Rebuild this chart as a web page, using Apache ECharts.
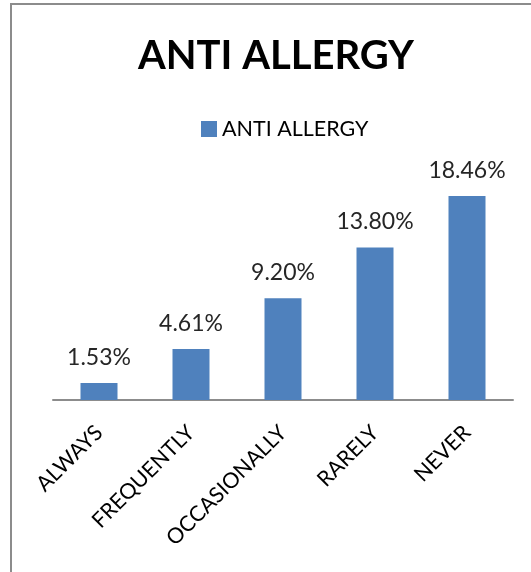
<!DOCTYPE html>
<html>
<head>
<meta charset="utf-8">
<script src="https://cdn.jsdelivr.net/npm/echarts@6/dist/echarts.min.js"></script>
<style>
html,body{margin:0;padding:0;background:#fff;}
#frame{position:absolute;left:10px;top:3px;width:540px;height:600px;border-left:2px solid #8c8c8c;border-top:2px solid #8c8c8c;}
#chart{position:absolute;left:0;top:0;width:531px;height:572px;}
</style>
</head>
<body>
<div id="frame"></div>
<div id="chart"></div>
<script>
const titleText = "ANTI ALLERGY";
const seriesName = "ANTI ALLERGY";
const categories = ["ALWAYS", "FREQUENTLY", "OCCASIONALLY", "RARELY", "NEVER"];
const values = [1.53, 4.61, 9.20, 13.80, 18.46];

const chart = echarts.init(document.getElementById('chart'), null, {renderer: 'canvas'});
chart.setOption({
  animation: false,
  backgroundColor: 'transparent',
  title: {
    text: titleText,
    left: 271,
    textAlign: 'center',
    top: 31,
    textStyle: {fontFamily: 'Lato', fontWeight: 'bold', fontSize: 40, color: '#000'}
  },
  legend: {
    data: [seriesName],
    top: 113,
    left: 196,
    itemWidth: 16,
    itemHeight: 16,
    itemGap: 5,
    icon: 'rect',
    textStyle: {fontFamily: 'Lato', fontSize: 21.5, color: '#000'}
  },
  grid: {left: 53, right: 18, top: 179, bottom: 172, containLabel: false},
  xAxis: {
    type: 'category',
    data: categories,
    axisLine: {show: true, lineStyle: {color: '#8c8c8c', width: 2}},
    axisTick: {show: false},
    axisLabel: {rotate: 45, margin: 29, fontFamily: 'Lato', fontSize: 21.5, color: '#000', interval: 0}
  },
  yAxis: {
    type: 'value',
    min: 0,
    max: 20,
    show: false,
    splitLine: {show: false}
  },
  series: [{
    name: seriesName,
    type: 'bar',
    data: values,
    barWidth: 37,
    itemStyle: {color: '#4F81BD'},
    label: {
      show: true,
      position: 'top',
      distance: 14,
      fontFamily: 'Lato',
      fontSize: 23,
      color: '#262626',
      formatter: p => p.value.toFixed(2) + '%'
    }
  }]
});
</script>
</body>
</html>
